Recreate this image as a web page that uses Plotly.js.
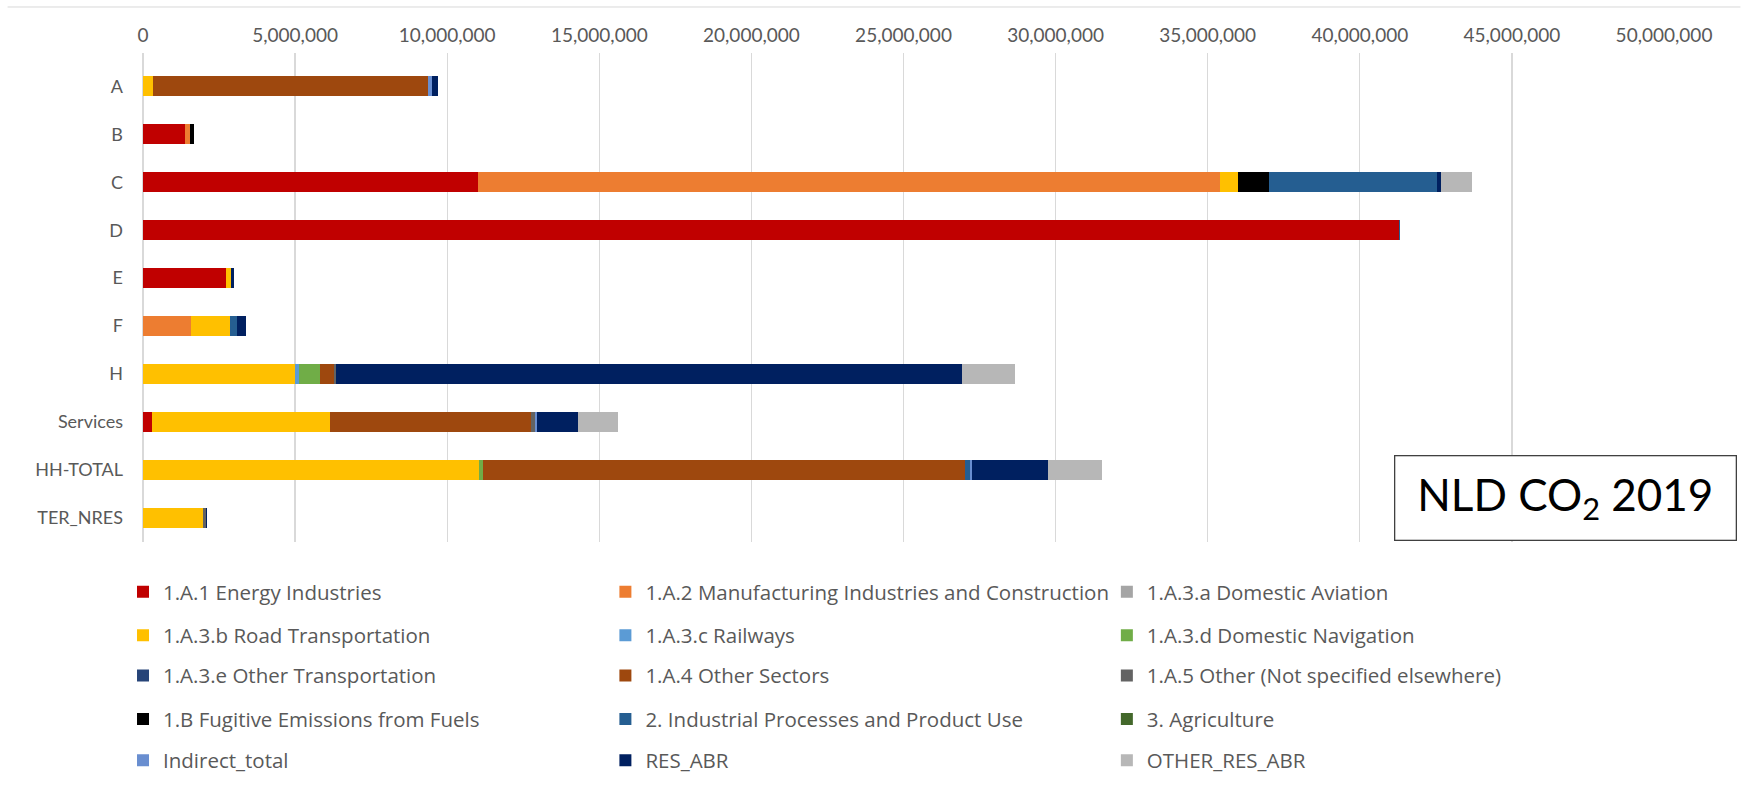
<!DOCTYPE html>
<html>
<head>
<meta charset="utf-8">
<script src="https://cdn.plot.ly/plotly-3.0.1.min.js"></script>
<style>
  html, body { margin: 0; padding: 0; background: #ffffff; }
  #chart { width: 1741px; height: 792px; }
</style>
</head>
<body>
<div id="chart"></div>
<script>
// Categories (top to bottom)
const categories = ["A", "B", "C", "D", "E", "F", "H", "Services", "HH-TOTAL", "TER_NRES"];

// Series values (t CO2), one value per category
const energyIndustries   = [0,       1390000, 11020000, 41280000, 2740000, 0,       0,        290000,  0,        0];
const manufacturing      = [0,       150000,  24380000, 0,        0,       1580000, 0,        0,       0,        0];
const domesticAviation   = [0,       0,       0,        0,        0,       0,       0,        0,       0,        0];
const roadTransport      = [320000,  0,       580000,   0,        160000,  1270000, 5010000,  5870000, 11030000, 1960000];
const railways           = [0,       0,       0,        0,        0,       0,       130000,   0,       0,        0];
const domesticNavigation = [0,       0,       0,        0,        0,       0,       690000,   0,       150000,   0];
const otherTransport     = [0,       0,       0,        0,        0,       0,       0,        0,       0,        0];
const otherSectors       = [9040000, 0,       0,        0,        0,       0,       460000,   6600000, 15840000, 0];
const otherNotSpecified  = [0,       0,       0,        0,        0,       0,       70000,    130000,  0,        100000];
const fugitive           = [0,       120000,  1040000,  0,        0,       0,       0,        0,       0,        0];
const industrialProc     = [0,       0,       5530000,  50000,    0,       240000,  0,        0,       150000,   0];
const agriculture        = [0,       0,       0,        0,        0,       0,       0,        0,       0,        0];
const indirectTotal      = [150000,  0,       0,        0,        0,       0,       0,        60000,   90000,    0];
const resAbr             = [200000,  0,       130000,   0,        80000,   290000,  20550000, 1340000, 2480000,  40000];
const otherResAbr        = [0,       0,       1000000,  0,        0,       0,       1750000,  1330000, 1800000,  0];

// Axis tick values
const xTickVals = [0, 5000000, 10000000, 15000000, 20000000, 25000000, 30000000, 35000000, 40000000, 45000000, 50000000];

const seriesNames = [
  "1.A.1 Energy Industries",
  "1.A.2 Manufacturing Industries and Construction",
  "1.A.3.a Domestic Aviation",
  "1.A.3.b Road Transportation",
  "1.A.3.c Railways",
  "1.A.3.d Domestic Navigation",
  "1.A.3.e Other Transportation",
  "1.A.4 Other Sectors",
  "1.A.5 Other (Not specified elsewhere)",
  "1.B Fugitive Emissions from Fuels",
  "2. Industrial Processes and Product Use",
  "3. Agriculture",
  "Indirect_total",
  "RES_ABR",
  "OTHER_RES_ABR"
];
const seriesValues = [
  energyIndustries, manufacturing, domesticAviation, roadTransport, railways,
  domesticNavigation, otherTransport, otherSectors, otherNotSpecified, fugitive,
  industrialProc, agriculture, indirectTotal, resAbr, otherResAbr
];
const seriesColors = [
  "#C00000", "#ED7D31", "#A5A5A5", "#FFC000", "#5B9BD5",
  "#70AD47", "#264478", "#9E480E", "#636363", "#000000",
  "#255E91", "#43682B", "#698ED0", "#002060", "#B7B7B7"
];

const FONT = "Lato, 'Liberation Sans', Arial, sans-serif";
const LEGFONT = "'Open Sans', 'Noto Sans', Arial, sans-serif";
const GREY = "#595959";

const legendKey = i => (i === 0 ? "legend" : "legend" + (i + 1));

const traces = seriesNames.map((name, i) => ({
  type: "bar",
  orientation: "h",
  name: name,
  y: categories,
  x: seriesValues[i],
  marker: { color: seriesColors[i], line: { width: 0 } },
  legend: legendKey(i),
  hoverinfo: "skip"
}));

const plotL = 142.5, plotR = 1664.5, plotT = 53, plotB = 552.5;
const plotW = plotR - plotL, plotH = plotB - plotT;
const rowY = [603.5, 648, 689, 733.5, 775.5];
const colX = [122.5, 605.2, 1107];
function legendAt(xpx, ypx) {
  return {
    orientation: "h",
    x: (xpx - plotL) / plotW,
    xanchor: "left",
    y: (plotB - ypx) / plotH,
    yanchor: "middle",
    font: { family: LEGFONT, size: 20.5, color: GREY },
    bgcolor: "rgba(0,0,0,0)",
    traceorder: "normal"
  };
}

const layout = {
  width: 1741,
  height: 792,
  margin: { l: plotL, r: 1741 - plotR, t: plotT, b: 792 - plotB, pad: 0 },
  paper_bgcolor: "#ffffff",
  plot_bgcolor: "#ffffff",
  barmode: "stack",
  bargap: 0.59,
  font: { family: FONT, size: 18, color: GREY },
  xaxis: {
    side: "top",
    range: [0, 50000000],
    tickvals: xTickVals,
    tickformat: ",d",
    showgrid: true,
    gridcolor: "#D9D9D9",
    gridwidth: 1.3,
    zeroline: true,
    zerolinecolor: "#D9D9D9",
    zerolinewidth: 1.3,
    showline: false,
    ticks: "",
    ticklabelstandoff: 6,
    tickfont: { family: FONT, size: 19, color: GREY },
    fixedrange: true
  },
  yaxis: {
    type: "category",
    categoryorder: "array",
    categoryarray: categories,
    range: [9.5, -0.694],
    showgrid: false,
    zeroline: false,
    showline: false,
    ticks: "",
    ticklabelstandoff: 19,
    tickfont: { family: FONT, size: 18, color: GREY },
    fixedrange: true
  },
  showlegend: true,
  shapes: [
    { type: "line", xref: "paper", yref: "paper",
      x0: (7 - plotL) / plotW, x1: (1741 - plotL) / plotW,
      y0: (plotB - 6) / plotH, y1: (plotB - 6) / plotH,
      line: { color: "#D9D9D9", width: 1 } }
  ],
  annotations: [
    {
      xref: "paper", yref: "paper",
      x: (1738 - plotL) / plotW, xanchor: "right",
      y: (plotB - 508) / plotH, yanchor: "middle",
      text: "NLD CO<sub>2</sub> 2019",
      showarrow: false,
      font: { family: FONT, size: 44, color: "#000000" },
      bgcolor: "#ffffff",
      bordercolor: "#404040",
      borderwidth: 1.3,
      borderpad: 1,
      width: 338,
      height: 81,
      align: "center",
      valign: "middle"
    }
  ]
};

// One legend per entry, arranged in 3 columns x 5 rows
seriesNames.forEach((_, i) => {
  layout[legendKey(i)] = legendAt(colX[i % 3], rowY[Math.floor(i / 3)]);
});

Plotly.newPlot("chart", traces, layout, { displayModeBar: false, staticPlot: true });
</script>
</body>
</html>
